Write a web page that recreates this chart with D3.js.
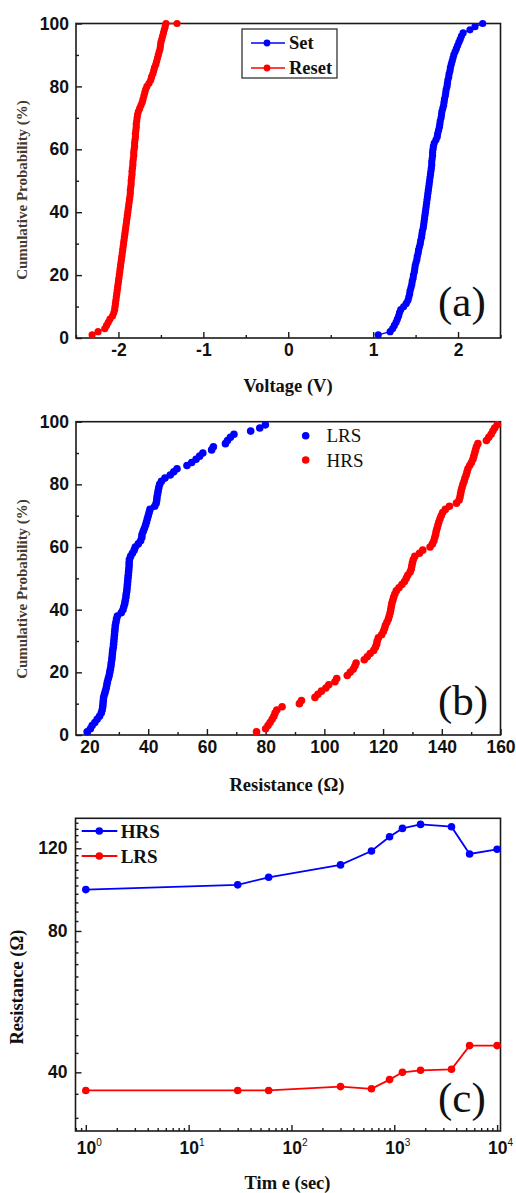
<!DOCTYPE html>
<html><head><meta charset="utf-8">
<script src="https://cdn.jsdelivr.net/npm/d3@7"></script>
<style>body{margin:0;background:#fff}svg{display:block}</style>
</head><body>
<svg id="chart" width="516" height="1193"></svg>
<script>
// ---------- DATA ----------
const cumProb = [1,2,3,4,5,6,7,8,9,10,11,12,13,14,15,16,17,18,19,20,21,22,23,24,25,26,27,28,29,30,31,32,33,34,35,36,37,38,39,40,41,42,43,44,45,46,47,48,49,50,51,52,53,54,55,56,57,58,59,60,61,62,63,64,65,66,67,68,69,70,71,72,73,74,75,76,77,78,79,80,81,82,83,84,85,86,87,88,89,90,91,92,93,94,95,96,97,98,99,100];

// Panel (a): switching voltages (V)
const setVoltage = [1.06,1.20,1.23,1.25,1.27,1.285,1.30,1.31,1.325,1.36,1.39,1.41,1.42,1.43,1.435,1.445,1.455,1.46,1.47,1.475,1.485,1.49,1.495,1.505,1.515,1.52,1.53,1.535,1.545,1.555,1.56,1.57,1.575,1.58,1.59,1.595,1.60,1.605,1.61,1.615,1.62,1.625,1.63,1.635,1.64,1.645,1.65,1.655,1.66,1.665,1.67,1.675,1.68,1.685,1.69,1.69,1.695,1.70,1.70,1.705,1.71,1.72,1.74,1.755,1.76,1.77,1.78,1.785,1.79,1.80,1.805,1.81,1.82,1.83,1.835,1.84,1.85,1.855,1.86,1.87,1.875,1.88,1.89,1.895,1.905,1.91,1.92,1.93,1.94,1.95,1.965,1.98,1.995,2.01,2.025,2.04,2.06,2.14,2.20,2.29];
const resetVoltage = [-2.31,-2.24,-2.16,-2.14,-2.12,-2.10,-2.07,-2.055,-2.045,-2.04,-2.035,-2.03,-2.025,-2.02,-2.015,-2.01,-2.005,-2.0,-1.995,-1.99,-1.985,-1.98,-1.975,-1.97,-1.965,-1.96,-1.955,-1.95,-1.945,-1.94,-1.935,-1.93,-1.925,-1.92,-1.915,-1.91,-1.905,-1.90,-1.895,-1.89,-1.885,-1.88,-1.875,-1.87,-1.865,-1.86,-1.86,-1.855,-1.85,-1.85,-1.845,-1.84,-1.84,-1.835,-1.83,-1.83,-1.825,-1.82,-1.82,-1.815,-1.81,-1.81,-1.805,-1.80,-1.80,-1.795,-1.79,-1.79,-1.785,-1.78,-1.775,-1.765,-1.75,-1.735,-1.72,-1.71,-1.70,-1.69,-1.68,-1.665,-1.64,-1.62,-1.61,-1.595,-1.585,-1.575,-1.56,-1.55,-1.54,-1.53,-1.52,-1.51,-1.505,-1.50,-1.49,-1.48,-1.47,-1.46,-1.45,-1.44];
const resetTailVoltage = [-1.31];
const resetTailProb = [100];

// Panel (b): resistance distributions (Ohm), 99 cycles
const lrsResistance = [19.2,20.3,20.9,21.8,22.6,23.4,24.0,24.3,24.5,24.6,24.7,24.8,25.1,25.4,25.7,25.9,26.1,26.4,26.7,26.9,27.1,27.3,27.4,27.6,27.7,27.8,27.9,28.1,28.2,28.3,28.4,28.5,28.6,28.7,28.8,29.0,29.2,29.5,30.8,31.4,31.7,32.0,32.2,32.4,32.5,32.7,32.8,32.9,33.0,33.1,33.2,33.3,33.4,33.5,33.5,33.6,34.0,34.6,35.2,35.6,36.6,37.4,37.8,37.9,38.3,38.7,39.1,39.4,39.7,40.0,40.3,40.6,42.2,42.7,42.9,43.0,43.2,43.4,43.6,43.9,44.5,45.7,47.5,48.7,49.8,53.2,54.8,56.3,57.5,58.6,61.6,62.2,66.3,67.0,68.0,69.2,74.9,78.0,79.9];
const hrsResistance = [76.9,80.0,80.8,81.5,82.2,82.8,83.2,83.8,85.6,91.5,92.2,96.8,97.8,99.0,100.5,101.5,103.6,104.2,107.8,108.8,109.8,110.4,110.8,113.6,114.6,115.6,116.8,117.4,117.8,118.0,118.4,119.5,120.1,120.5,120.8,121.3,121.8,122.1,122.4,122.6,122.8,123.0,123.3,123.6,124.0,124.5,125.4,126.4,127.3,127.9,128.4,129.2,129.6,129.8,130.0,130.3,130.8,132.4,133.5,136.0,136.8,137.3,137.6,137.9,138.1,138.4,138.7,139.0,139.4,139.8,140.3,141.2,142.6,145.0,145.9,146.2,146.4,146.6,146.9,147.2,147.6,147.9,148.3,148.6,148.9,149.5,150.1,150.6,150.9,151.2,151.5,151.8,152.3,155.2,156.0,156.8,157.4,158.0,158.9];

// Panel (c): retention
const retentionTime = [1,30,60,300,600,900,1200,1800,3600,5400,10000];
const hrsRetention = [98,100.3,104.1,110.6,118.4,127,132.3,134.9,133.4,116.7,119.4];
const lrsRetention = [36.6,36.6,36.6,37.3,36.9,38.6,40,40.4,40.6,45.6,45.6];

// Tick values / labels
const voltageTicks = [-2,-1,0,1,2];
const voltageMinor = [-2.5,-1.5,-0.5,0.5,1.5,2.5];
const probTicks = [0,20,40,60,80,100];
const probMinor = [10,30,50,70,90];
const resTicks = [20,40,60,80,100,120,140,160];
const resMinor = [30,50,70,90,110,130,150];
const timeDecades = [0,1,2,3,4];
const timeMinorMult = [2,3,4,5,6,7,8,9];
const retTicks = [40,80,120];
const retMinor = [32,36,44,48,52,56,60,64,68,72,76,84,88,92,96,100,104,108,112,116,124,128,132,136];

// ---------- DRAWING ----------
const svg = d3.select("#chart");
const BLUE = "#0000ff", RED = "#ff0000", INK = "#1a1a1a";
const SANS = "'Liberation Sans', Arial, sans-serif";
const SERIF = "'Liberation Serif', 'Times New Roman', serif";
const plain = d => String(d);

function styleAxis(g){
  g.select(".domain").remove();
  g.selectAll(".tick line").attr("stroke", INK).attr("stroke-width", 1.4);
  g.selectAll(".tick text").attr("font-family", SANS).attr("font-size", 17.5)
    .attr("font-weight", "bold").attr("fill", "#111");
}
function frame(L,R,T,B){
  svg.append("rect").attr("x",L).attr("y",T).attr("width",R-L).attr("height",B-T)
    .attr("fill","none").attr("stroke",INK).attr("stroke-width",1.6);
}
function yTitle(txt,x,y,size,color){
  svg.append("text").attr("transform",`translate(${x},${y}) rotate(-90)`)
    .attr("text-anchor","middle").attr("dominant-baseline","central")
    .attr("font-family",SERIF).attr("font-weight","bold").attr("font-size",size)
    .attr("fill",color).text(txt);
}
function xTitle(txt,x,y){
  svg.append("text").attr("x",x).attr("y",y).attr("text-anchor","middle")
    .attr("font-family",SERIF).attr("font-weight","bold").attr("font-size",18.5)
    .attr("fill","#111").text(txt);
}
function panelLabel(txt,x,y){
  svg.append("text").attr("x",x).attr("y",y).attr("font-family",SERIF)
    .attr("font-size",43).attr("fill","#111").text(txt);
}

// ===== Panel (a) =====
{
  const L=76,R=500.5,T=23.5,B=338;
  const x = d3.scaleLinear().domain([-2.5,2.5]).range([L,R]);
  const y = d3.scaleLinear().domain([0,100]).range([B,T]);
  svg.append("g").attr("transform",`translate(0,${B})`)
    .call(d3.axisBottom(x).tickValues(voltageMinor).tickSize(-3).tickFormat("")).call(styleAxis);
  svg.append("g").attr("transform",`translate(0,${B})`)
    .call(d3.axisBottom(x).tickValues(voltageTicks).tickSizeInner(-6).tickSizeOuter(0).tickPadding(6).tickFormat(plain)).call(styleAxis);
  svg.append("g").attr("transform",`translate(${L},0)`)
    .call(d3.axisLeft(y).tickValues(probMinor).tickSize(-3).tickFormat("")).call(styleAxis);
  svg.append("g").attr("transform",`translate(${L},0)`)
    .call(d3.axisLeft(y).tickValues(probTicks).tickSizeInner(-6).tickSizeOuter(0).tickPadding(7).tickFormat(plain)).call(styleAxis);
  frame(L,R,T,B);

  const series = [
    {v:setVoltage, p:cumProb, c:BLUE},
    {v:resetVoltage.concat(resetTailVoltage), p:cumProb.concat(resetTailProb), c:RED}
  ];
  series.forEach(s=>{
    const pts = s.v.map((v,i)=>[v,s.p[i]]);
    svg.append("path").datum(pts).attr("fill","none").attr("stroke",s.c).attr("stroke-width",1.4)
      .attr("d",d3.line().x(d=>x(d[0])).y(d=>y(d[1])));
    svg.append("g").selectAll("circle").data(pts).join("circle")
      .attr("cx",d=>x(d[0])).attr("cy",d=>y(d[1])).attr("r",3.6).attr("fill",s.c);
  });
  // legend
  svg.append("rect").attr("x",242).attr("y",29).attr("width",95).attr("height",49)
    .attr("fill","#fff").attr("stroke","#333").attr("stroke-width",1.3);
  [["Set",BLUE,43],["Reset",RED,68]].forEach(([t,c,yy])=>{
    svg.append("line").attr("x1",251).attr("x2",285).attr("y1",yy).attr("y2",yy).attr("stroke",c).attr("stroke-width",1.3);
    svg.append("circle").attr("cx",267).attr("cy",yy).attr("r",3.4).attr("fill",c);
    svg.append("text").attr("x",289).attr("y",yy+6).attr("font-family",SERIF).attr("font-weight","bold")
      .attr("font-size",18.5).attr("fill","#111").text(t);
  });
  xTitle("Voltage (V)", 288, 392);
  yTitle("Cumulative Probability (%)", 22, 190, 15, "#45392b");
  panelLabel("(a)", 438, 316);
}

// ===== Panel (b) =====
{
  const L=76,R=500.5,T=421.7,B=735;
  const x = d3.scaleLinear().domain([15.4,160]).range([L,R]);
  const y = d3.scaleLinear().domain([0,100]).range([B,T]);
  svg.append("g").attr("transform",`translate(0,${B})`)
    .call(d3.axisBottom(x).tickValues(resMinor).tickSize(-3).tickFormat("")).call(styleAxis);
  svg.append("g").attr("transform",`translate(0,${B})`)
    .call(d3.axisBottom(x).tickValues(resTicks).tickSizeInner(-6).tickSizeOuter(0).tickPadding(6).tickFormat(plain)).call(styleAxis);
  svg.append("g").attr("transform",`translate(${L},0)`)
    .call(d3.axisLeft(y).tickValues(probMinor).tickSize(-3).tickFormat("")).call(styleAxis);
  svg.append("g").attr("transform",`translate(${L},0)`)
    .call(d3.axisLeft(y).tickValues(probTicks).tickSizeInner(-6).tickSizeOuter(0).tickPadding(7).tickFormat(plain)).call(styleAxis);
  frame(L,R,T,B);

  [[lrsResistance,BLUE],[hrsResistance,RED]].forEach(([arr,c])=>{
    svg.append("g").selectAll("circle").data(arr).join("circle")
      .attr("cx",d=>x(d)).attr("cy",(d,i)=>y(cumProb[i])).attr("r",3.8).attr("fill",c);
  });
  [["LRS",BLUE,435.7],["HRS",RED,460]].forEach(([t,c,yy])=>{
    svg.append("circle").attr("cx",305.7).attr("cy",yy).attr("r",3.8).attr("fill",c);
    svg.append("text").attr("x",326.5).attr("y",yy+6.5).attr("font-family",SERIF)
      .attr("font-size",19).attr("fill","#111").text(t);
  });
  xTitle("Resistance (\u03A9)", 287, 791);
  yTitle("Cumulative Probability (%)", 22, 589, 15, "#45392b");
  panelLabel("(b)", 438, 715);
}

// ===== Panel (c) =====
{
  const L=75.5,R=500.5,T=818.3,B=1131;
  const x = d3.scaleLog().domain([0.794,10790]).range([L,R]);
  const y = d3.scaleLog().domain([30,139]).range([B,T]);
  const minorT = [];
  timeDecades.forEach(d=>timeMinorMult.forEach(m=>{const v=m*Math.pow(10,d); if(v<=10790) minorT.push(v);}));
  minorT.push(0.8, 0.9);
  const majorT = timeDecades.map(d=>Math.pow(10,d));
  svg.append("g").attr("transform",`translate(0,${B})`)
    .call(d3.axisBottom(x).tickValues(minorT).tickSize(-3).tickFormat("")).call(styleAxis);
  const gx = svg.append("g").attr("transform",`translate(0,${B})`)
    .call(d3.axisBottom(x).tickValues(majorT).tickSizeInner(-6).tickSizeOuter(0).tickPadding(8).tickFormat(""))
    .call(styleAxis);
  gx.selectAll(".tick").append("text").attr("y",23).attr("x",3).attr("text-anchor","middle")
    .attr("font-family",SANS).attr("font-size",17.5).attr("font-weight","bold").attr("fill","#111")
    .each(function(d){
      const t = d3.select(this);
      t.append("tspan").text("10");
      t.append("tspan").attr("dy",-8).attr("font-size",10).attr("font-weight","normal").text(Math.round(Math.log10(d)));
    });
  svg.append("g").attr("transform",`translate(${L},0)`)
    .call(d3.axisLeft(y).tickValues(retMinor).tickSize(-3).tickFormat("")).call(styleAxis);
  svg.append("g").attr("transform",`translate(${L},0)`)
    .call(d3.axisLeft(y).tickValues(retTicks).tickSizeInner(-6).tickSizeOuter(0).tickPadding(8).tickFormat(plain)).call(styleAxis);
  frame(L,R,T,B);

  [[hrsRetention,BLUE],[lrsRetention,RED]].forEach(([arr,c])=>{
    const pts = retentionTime.map((t,i)=>[t,arr[i]]);
    svg.append("path").datum(pts).attr("fill","none").attr("stroke",c).attr("stroke-width",1.8)
      .attr("d",d3.line().x(d=>x(d[0])).y(d=>y(d[1])));
    svg.append("g").selectAll("circle").data(pts).join("circle")
      .attr("cx",d=>x(d[0])).attr("cy",d=>y(d[1])).attr("r",3.8).attr("fill",c);
  });
  [["HRS",BLUE,831],["LRS",RED,856]].forEach(([t,c,yy])=>{
    svg.append("line").attr("x1",81.7).attr("x2",117.3).attr("y1",yy).attr("y2",yy).attr("stroke",c).attr("stroke-width",1.8);
    svg.append("circle").attr("cx",99.3).attr("cy",yy).attr("r",3.8).attr("fill",c);
    svg.append("text").attr("x",120.7).attr("y",yy+6.5).attr("font-family",SERIF).attr("font-weight","bold")
      .attr("font-size",19).attr("fill","#111").text(t);
  });
  xTitle("Tim e (sec)", 287.5, 1189);
  yTitle("Resistance (\u03A9)", 17, 987, 18.5, "#111");
  panelLabel("(c)", 438, 1112);
}
</script>
</body></html>
